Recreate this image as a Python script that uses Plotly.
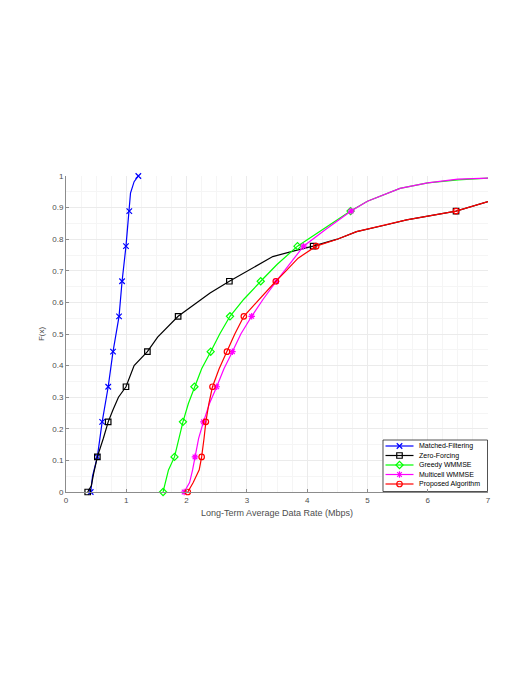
import plotly.graph_objects as go

# ---- data ----
series_names = ["Matched-Filtering", "Zero-Forcing", "Greedy WMMSE", "Multicell WMMSE", "Proposed Algorithm"]
series_colors = ["#0000ff", "#000000", "#00ff00", "#ff00ff", "#ff0000"]
series_symbols = ["x-thin-open", "square-open", "diamond-open", "asterisk-open", "circle-open"]

# Matched-Filtering
mf_line_x = [0.41, 0.44, 0.52, 0.60, 0.70, 0.78, 0.88, 0.93, 0.995, 1.05, 1.07, 1.13, 1.20]
mf_line_f = [0.0, 0.05, 0.111, 0.222, 0.333, 0.444, 0.556, 0.667, 0.778, 0.889, 0.946, 0.982, 1.0]
mf_mark_x = [0.41, 0.52, 0.60, 0.70, 0.78, 0.88, 0.93, 0.995, 1.05, 1.20]
mf_mark_f = [0.0, 0.111, 0.222, 0.333, 0.444, 0.556, 0.667, 0.778, 0.889, 1.0]

# Zero-Forcing
zf_line_x = [0.36, 0.42, 0.46, 0.52, 0.62, 0.70, 0.78, 0.87, 0.995, 1.13, 1.35, 1.52, 1.86, 2.17,
             2.39, 2.71, 2.89, 3.43, 3.80, 4.10, 4.50, 4.82, 5.30, 5.65, 6.47, 7.0]
zf_line_f = [0.0, 0.02, 0.06, 0.111, 0.17, 0.222, 0.26, 0.30, 0.333, 0.40, 0.444, 0.49, 0.556, 0.60,
             0.63, 0.667, 0.687, 0.745, 0.764, 0.778, 0.800, 0.824, 0.845, 0.861, 0.889, 0.919]
zf_mark_x = [0.36, 0.52, 0.70, 0.995, 1.35, 1.86, 2.71, 4.10, 6.47]
zf_mark_f = [0.0, 0.111, 0.222, 0.333, 0.444, 0.556, 0.667, 0.778, 0.889]

# Greedy WMMSE
gw_line_x = [1.61, 1.65, 1.70, 1.80, 1.87, 1.94, 2.03, 2.13, 2.25, 2.40, 2.55, 2.72, 2.95, 3.23,
             3.50, 3.84, 4.30, 4.72, 5.00, 5.54, 6.00, 6.50, 7.0]
gw_line_f = [0.0, 0.03, 0.07, 0.111, 0.17, 0.222, 0.28, 0.333, 0.39, 0.444, 0.50, 0.556, 0.61, 0.667,
             0.72, 0.778, 0.835, 0.889, 0.92, 0.961, 0.978, 0.988, 0.993]
gw_mark_x = [1.61, 1.80, 1.94, 2.13, 2.40, 2.72, 3.23, 3.84, 4.72]
gw_mark_f = [0.0, 0.111, 0.222, 0.333, 0.444, 0.556, 0.667, 0.778, 0.889]

# Multicell WMMSE
mw_line_x = [1.96, 2.05, 2.10, 2.14, 2.20, 2.28, 2.38, 2.50, 2.62, 2.76, 2.90, 3.08, 3.27, 3.49,
             3.70, 3.94, 4.30, 4.73, 5.00, 5.54, 6.00, 6.50, 7.0]
mw_line_f = [0.0, 0.03, 0.07, 0.111, 0.17, 0.222, 0.28, 0.333, 0.39, 0.444, 0.50, 0.556, 0.61, 0.667,
             0.72, 0.778, 0.83, 0.889, 0.92, 0.961, 0.978, 0.99, 0.993]
mw_mark_x = [1.96, 2.14, 2.28, 2.50, 2.76, 3.08, 3.49, 3.94, 4.73]
mw_mark_f = [0.0, 0.111, 0.222, 0.333, 0.444, 0.556, 0.667, 0.778, 0.889]

# Proposed Algorithm
pa_line_x = [2.02, 2.11, 2.21, 2.25, 2.29, 2.32, 2.37, 2.43, 2.54, 2.67, 2.80, 2.95, 3.20, 3.48,
             3.65, 3.85, 4.15, 4.50, 4.82, 5.30, 5.65, 6.47, 7.0]
pa_line_f = [0.0, 0.03, 0.07, 0.111, 0.17, 0.222, 0.28, 0.333, 0.39, 0.444, 0.50, 0.556, 0.61, 0.667,
             0.70, 0.74, 0.778, 0.80, 0.824, 0.845, 0.861, 0.889, 0.919]
pa_mark_x = [2.02, 2.25, 2.32, 2.43, 2.67, 2.95, 3.48, 4.15, 6.47]
pa_mark_f = [0.0, 0.111, 0.222, 0.333, 0.444, 0.556, 0.667, 0.778, 0.889]

x_ticks = [0, 1, 2, 3, 4, 5, 6, 7]
y_ticks = [0, 0.1, 0.2, 0.3, 0.4, 0.5, 0.6, 0.7, 0.8, 0.9, 1.0]
y_tick_labels = ["0", "0.1", "0.2", "0.3", "0.4", "0.5", "0.6", "0.7", "0.8", "0.9", "1"]

lines = [(mf_line_x, mf_line_f), (zf_line_x, zf_line_f), (gw_line_x, gw_line_f),
         (mw_line_x, mw_line_f), (pa_line_x, pa_line_f)]
marks = [(mf_mark_x, mf_mark_f), (zf_mark_x, zf_mark_f), (gw_mark_x, gw_mark_f),
         (mw_mark_x, mw_mark_f), (pa_mark_x, pa_mark_f)]

FONT = "Liberation Sans, Arial, sans-serif"
MS = 5.5
LW = 1.2

fig = go.Figure()
for name, color, sym, (lx, lf), (mx, mf) in zip(series_names, series_colors, series_symbols, lines, marks):
    fig.add_trace(go.Scatter(x=lx, y=lf, mode="lines", line=dict(color=color, width=LW),
                             showlegend=False, hoverinfo="skip"))
    fig.add_trace(go.Scatter(x=mx, y=mf, mode="markers", showlegend=False, cliponaxis=False,
                             name=name,
                             marker=dict(symbol=sym, size=MS, color=color,
                                         line=dict(color=color, width=LW))))

# ---- compact MATLAB-style legend, drawn on a hidden overlay axis in plot pixels ----
PW, PH = 422, 316            # plot area size in px
leg_x0, leg_x1 = 317, 421.5
leg_y0, leg_y1 = 264, 315.5
row_y = [270, 279.5, 289, 298.5, 308]
fig.add_trace(go.Scatter(x=[leg_x0, leg_x1, leg_x1, leg_x0, leg_x0],
                         y=[leg_y0, leg_y0, leg_y1, leg_y1, leg_y0],
                         xaxis="x2", yaxis="y2", mode="lines", fill="toself",
                         fillcolor="white", line=dict(color="#262626", width=0.8),
                         showlegend=False, hoverinfo="skip"))
for i, (name, color, sym) in enumerate(zip(series_names, series_colors, series_symbols)):
    fig.add_trace(go.Scatter(x=[319.5, 333.5, 347.5], y=[row_y[i]] * 3, xaxis="x2", yaxis="y2",
                             mode="lines", line=dict(color=color, width=LW),
                             showlegend=False, hoverinfo="skip"))
    fig.add_trace(go.Scatter(x=[333.5], y=[row_y[i]], xaxis="x2", yaxis="y2",
                             mode="markers", showlegend=False, hoverinfo="skip",
                             marker=dict(symbol=sym, size=MS, color=color,
                                         line=dict(color=color, width=LW))))
    fig.add_annotation(x=350.5, y=row_y[i], xref="x2", yref="y2", text=name, showarrow=False,
                       xanchor="left", yanchor="middle",
                       font=dict(family=FONT, size=7, color="#000000"))

axis_common = dict(
    showline=True, linecolor="#8c8c8c", linewidth=1,
    ticks="inside", ticklen=3, tickcolor="#8c8c8c",
    showgrid=True, gridcolor="#ebebeb", gridwidth=1,
    zeroline=False,
    tickfont=dict(family=FONT, size=8, color="#4d4d4d"),
)

fig.update_layout(
    xaxis=dict(range=[0, 7], tickvals=x_ticks,
               title=dict(text="Long-Term Average Data Rate (Mbps)", standoff=6,
                          font=dict(family=FONT, size=9, color="#4d4d4d")),
               minor=dict(dtick=0.25, showgrid=True, gridcolor="#f5f5f5"),
               **axis_common),
    yaxis=dict(range=[0, 1], tickvals=y_ticks, ticktext=y_tick_labels,
               title=dict(text="F(x)", standoff=6,
                          font=dict(family=FONT, size=8, color="#4d4d4d")),
               minor=dict(dtick=0.05, showgrid=True, gridcolor="#f5f5f5"),
               **axis_common),
    xaxis2=dict(overlaying="x", range=[0, PW], visible=False, fixedrange=True),
    yaxis2=dict(overlaying="y", range=[PH, 0], visible=False, fixedrange=True),
    width=521, height=675,
    margin=dict(l=58, r=41, t=168, b=191),
    paper_bgcolor="white", plot_bgcolor="white",
    showlegend=False,
)

fig.write_html("out.html")
